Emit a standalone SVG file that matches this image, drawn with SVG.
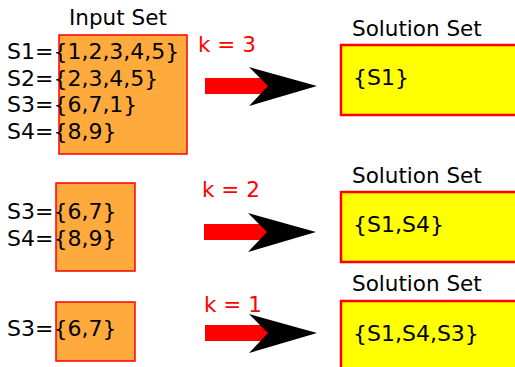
<svg xmlns="http://www.w3.org/2000/svg" width="515" height="367" viewBox="0 0 515 367">
  <style>
    text { font-family: "DejaVu Sans", sans-serif; font-size: 22px; fill: #000; }
    .title { font-size: 21.5px; }
    .k { fill: #ff0000; font-size: 21.5px; }
    .input { fill: #ffaa3c; stroke: #ff0000; stroke-width: 1.5; }
    .sol { fill: #ffff00; stroke: #ff0000; stroke-width: 2.5; }
    .bar { fill: #ff0000; }
    .head { fill: #000; }
  </style>
  <defs>
    <g id="arrow">
      <rect class="bar" x="0" y="-8" width="64" height="16"/>
      <polygon class="head" points="44,-19 112,0 44,20 63,0"/>
    </g>
  </defs>

  <!-- step k = 3 -->
  <g id="input1">
    <text class="title" x="69" y="25">Input Set</text>
    <rect class="input" x="59" y="35" width="128" height="119"/>
    <text x="7" y="59">S1={1,2,3,4,5}</text>
    <text x="7" y="86">S2={2,3,4,5}</text>
    <text x="7" y="112">S3={6,7,1}</text>
    <text x="7" y="139">S4={8,9}</text>
  </g>
  <g id="solution1">
    <text class="title" x="352" y="36">Solution Set</text>
    <rect class="sol" x="341" y="45" width="190" height="70"/>
    <text x="353" y="85">{S1}</text>
  </g>

  <!-- step k = 2 -->
  <g id="input2">
    <rect class="input" x="56" y="183" width="79" height="88"/>
    <text x="7" y="219">S3={6,7}</text>
    <text x="7" y="246">S4={8,9}</text>
  </g>
  <g id="solution2">
    <text class="title" x="352" y="183">Solution Set</text>
    <rect class="sol" x="341" y="192" width="190" height="70"/>
    <text x="353" y="232">{S1,S4}</text>
  </g>

  <!-- step k = 1 -->
  <g id="input3">
    <rect class="input" x="56" y="302" width="79" height="59"/>
    <text x="7" y="336">S3={6,7}</text>
  </g>
  <g id="solution3">
    <text class="title" x="352" y="291">Solution Set</text>
    <rect class="sol" x="341" y="301" width="190" height="80"/>
    <text x="353" y="341">{S1,S4,S3}</text>
  </g>

  <!-- transition arrows with their k labels -->
  <g id="connectors">
    <text class="k" x="198" y="52">k = 3</text>
    <use href="#arrow" x="205" y="86"/>
    <text class="k" x="202" y="197">k = 2</text>
    <use href="#arrow" x="204" y="232"/>
    <text class="k" x="204" y="312">k = 1</text>
    <use href="#arrow" x="205" y="333"/>
  </g>
</svg>
